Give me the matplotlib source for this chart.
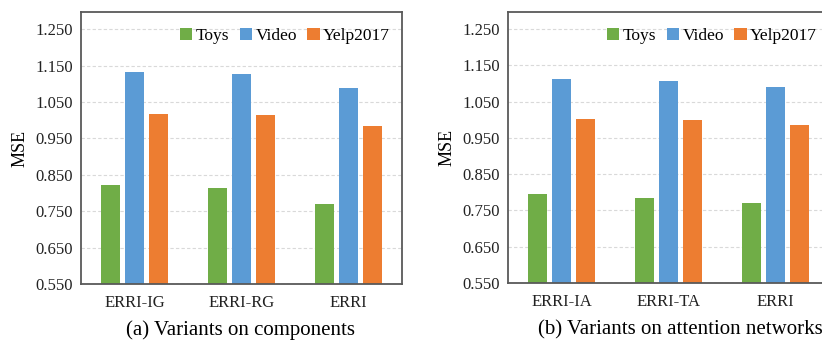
import numpy as np
import matplotlib
matplotlib.use("Agg")
import matplotlib.pyplot as plt

plt.rcParams['font.family'] = ['Liberation Serif', 'DejaVu Serif']

series = ['Toys', 'Video', 'Yelp2017']
colors = ['#70AD47', '#5B9BD5', '#ED7D31']

cats_a = ['ERRI-IG', 'ERRI-RG', 'ERRI']
vals_a = {
    'Toys': [0.822, 0.814, 0.770],
    'Video': [1.132, 1.127, 1.089],
    'Yelp2017': [1.017, 1.013, 0.985],
}
cats_b = ['ERRI-IA', 'ERRI-TA', 'ERRI']
vals_b = {
    'Toys': [0.794, 0.783, 0.770],
    'Video': [1.112, 1.106, 1.089],
    'Yelp2017': [1.003, 0.998, 0.985],
}
yticks = [0.550, 0.650, 0.750, 0.850, 0.950, 1.050, 1.150, 1.250]
caption_a = '(a) Variants on components'
caption_b = '(b) Variants on attention networks'

W, H = 822, 342
fig = plt.figure(figsize=(W / 100, H / 100), dpi=100)
ax_a = fig.add_axes([81 / W, 58 / H, 321 / W, 272 / H])
ax_b = fig.add_axes([508 / W, 59 / H, 321 / W, 271 / H])


def draw(ax, cats, vals):
    x = np.arange(len(cats))
    step = 0.224
    for i, s in enumerate(series):
        ax.bar(x + (i - 1) * step, vals[s], width=0.178, bottom=0,
               color=colors[i], linewidth=0, label=s, zorder=3)
    ax.set_xlim(-0.5, len(cats) - 0.5)
    ax.set_ylim(0.55, 1.297)
    ax.set_yticks(yticks)
    ax.set_yticklabels(['%.3f' % t for t in yticks])
    ax.set_xticks(x)
    ax.set_xticklabels(cats)
    ax.tick_params(length=0, labelsize=12, colors='#222222')
    ax.tick_params(axis='x', pad=8)
    ax.tick_params(axis='y', pad=6)
    ax.grid(axis='y', color='#d9d9d9', linestyle=(0, (3, 2)), linewidth=0.8, zorder=0)
    for sp in ax.spines.values():
        sp.set_color('#595959')
        sp.set_linewidth(1.3)
        sp.set_zorder(5)
    ax.set_ylabel('MSE', fontsize=13, labelpad=5)
    ax.legend(loc='upper right', ncol=3, frameon=False, fontsize=12.5,
              handlelength=0.7, handleheight=0.7, handletextpad=0.2,
              columnspacing=0.6, borderaxespad=0.3,
              bbox_to_anchor=(1.0, 0.985))


draw(ax_a, cats_a, vals_a)
draw(ax_b, cats_b, vals_b)

fig.text(241 / W, 1 - 330 / H, caption_a, ha='center', va='center', fontsize=15)
fig.text(680 / W, 1 - 330 / H, caption_b, ha='center', va='center', fontsize=15)

fig.savefig('out.png', dpi=100)
